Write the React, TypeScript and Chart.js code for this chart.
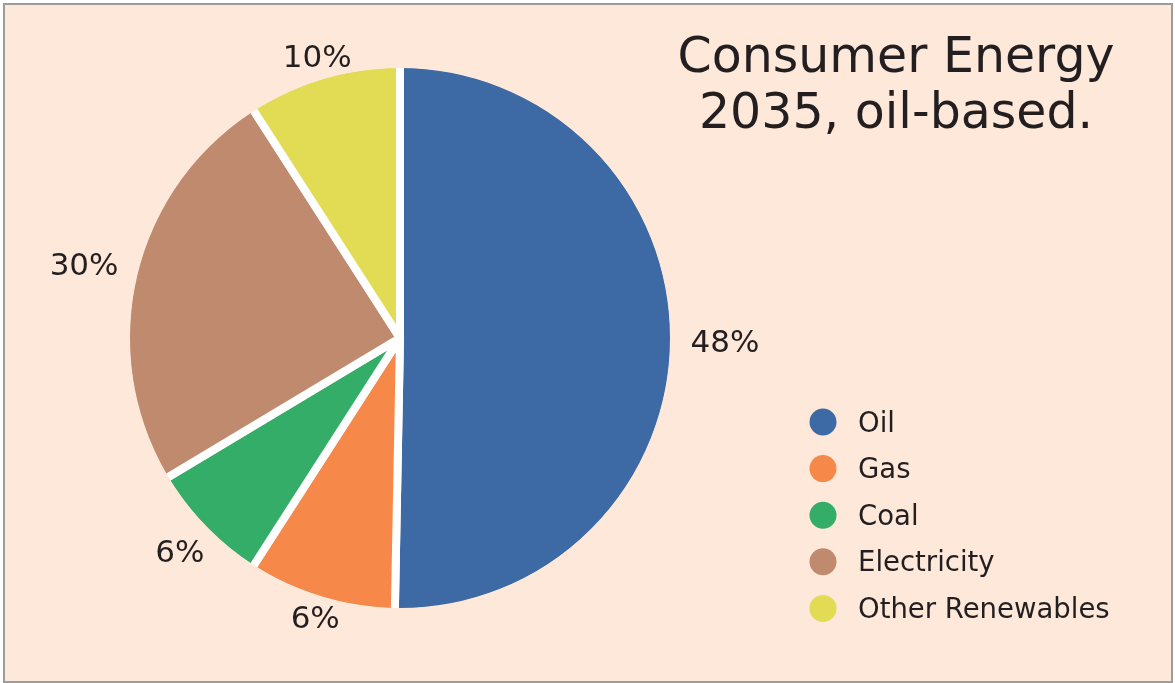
import React, { useEffect, useRef } from 'react';
import { Chart, registerables } from 'chart.js';

Chart.register(...registerables);

// ---- data ----
const categories = ['Oil', 'Gas', 'Coal', 'Electricity', 'Other Renewables'];
// slice shares as drawn (measured from slice angles)
const sliceShares = [50.3, 8.8, 7.3, 24.5, 9.1];
// percentages printed next to the slices
const printedPercents = ['48%', '6%', '6%', '30%', '10%'];
const sliceColors = ['#3d69a5', '#f6894a', '#34ad68', '#bf8a6e', '#e2dc54'];
const titleLines = ['Consumer Energy', '2035, oil-based.'];

const BG = '#fde8da';
const INK = '#231f20';
const FONT = '"DejaVu Sans", "Liberation Sans", sans-serif';

const decorPlugin = {
  id: 'decor',
  afterDatasetsDraw(chart: any) {
    const ctx: CanvasRenderingContext2D = chart.ctx;
    const meta = chart.getDatasetMeta(0);
    const arcs = meta.data as any[];
    if (!arcs.length) return;
    const cx = arcs[0].x;
    const cy = arcs[0].y;
    const R = arcs[0].outerRadius;

    ctx.save();
    // hide the white stroke on the outer rim so only the gaps remain white
    ctx.beginPath();
    ctx.arc(cx, cy, R + 0.5, 0, Math.PI * 2);
    ctx.lineWidth = 10;
    ctx.strokeStyle = BG;
    ctx.stroke();

    // percentage labels outside the slices
    ctx.font = `31px ${FONT}`;
    ctx.fillStyle = INK;
    ctx.textAlign = 'center';
    ctx.textBaseline = 'alphabetic';
    const capH = 22;
    arcs.forEach((arc: any, i: number) => {
      const mid = (arc.startAngle + arc.endAngle) / 2;
      const ux = Math.cos(mid);
      const uy = Math.sin(mid);
      const text = printedPercents[i];
      const w = ctx.measureText(text).width;
      const ext = Math.abs(ux) * w / 2 + Math.abs(uy) * (capH / 2 - 8);
      const d = R + 3 + 13 * Math.abs(ux) + ext;
      ctx.fillText(text, cx + ux * d, cy + uy * d + capH / 2);
    });

    // title (top right)
    ctx.font = `49px ${FONT}`;
    ctx.textAlign = 'center';
    const titleX = chart.width - 279;
    titleLines.forEach((line, i) => {
      ctx.fillText(line, titleX, 72 + i * 56);
    });

    // legend (bottom right)
    const lx = chart.width - 352;
    const ly0 = chart.height - 261;
    const step = 46.6;
    ctx.font = `27.5px ${FONT}`;
    ctx.textAlign = 'left';
    categories.forEach((name, i) => {
      const y = ly0 + i * step;
      ctx.beginPath();
      ctx.arc(lx, y, 13.5, 0, Math.PI * 2);
      ctx.fillStyle = sliceColors[i];
      ctx.fill();
      ctx.fillStyle = INK;
      ctx.fillText(name, lx + 35, y + 9.5);
    });
    ctx.restore();
  },
};

export default function App() {
  const canvasRef = useRef<HTMLCanvasElement | null>(null);

  useEffect(() => {
    const canvas = canvasRef.current;
    if (!canvas) return;
    const chart = new Chart(canvas, {
      type: 'pie',
      data: {
        labels: categories,
        datasets: [
          {
            data: sliceShares,
            backgroundColor: sliceColors,
            borderColor: '#ffffff',
            borderWidth: 8,
            borderJoinStyle: 'round',
            hoverOffset: 0,
          },
        ],
      },
      options: {
        responsive: false,
        maintainAspectRatio: false,
        animation: false,
        events: [],
        layout: {
          padding: { left: 121.5, right: 496.5, top: 59.5, bottom: 66.5 },
        },
        plugins: {
          legend: { display: false },
          title: { display: false },
          tooltip: { enabled: false },
        },
      },
      plugins: [decorPlugin],
    });
    return () => chart.destroy();
  }, []);

  return (
    <div
      style={{
        position: 'absolute',
        left: 0,
        top: 0,
        width: 1175,
        height: 683,
        background: '#ffffff',
        overflow: 'hidden',
      }}
    >
      <div
        style={{
          position: 'absolute',
          left: 3,
          top: 3,
          width: 1166,
          height: 676,
          border: '2px solid #9c9c9c',
          background: BG,
        }}
      />
      <canvas
        ref={canvasRef}
        width={1175}
        height={683}
        style={{ position: 'absolute', left: 0, top: 0, width: 1175, height: 683 }}
      />
    </div>
  );
}
